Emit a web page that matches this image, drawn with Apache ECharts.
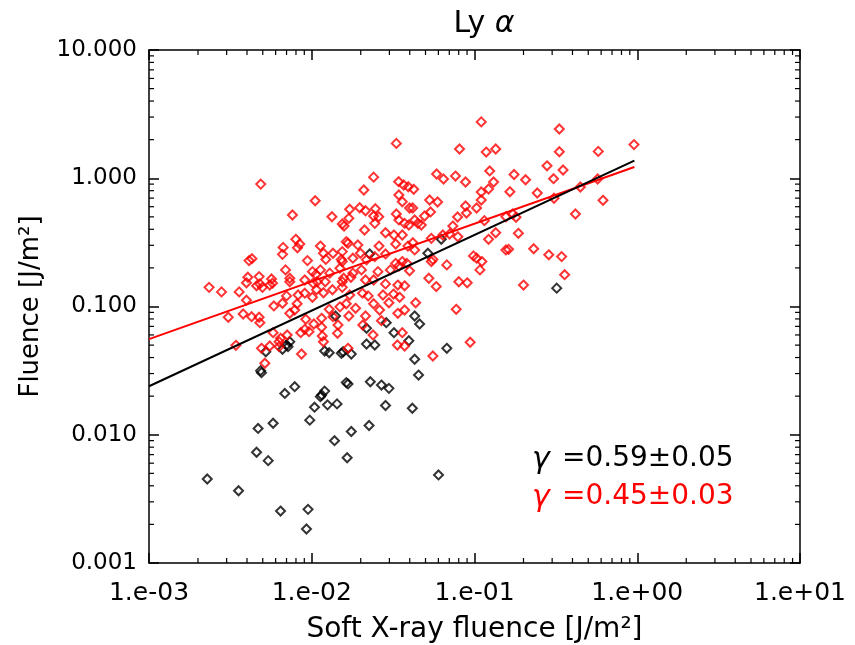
<!DOCTYPE html>
<html><head><meta charset="utf-8">
<script src="https://cdn.jsdelivr.net/npm/echarts@6/dist/echarts.min.js"></script>
<style>html,body{margin:0;padding:0;background:#fff}#c{width:855px;height:645px}</style>
</head><body><div id="c"></div>
<script>
const xTickLabels = ['1.e-03','1.e-02','1.e-01','1.e+00','1.e+01'];
const yTickLabels = ['0.001','0.010','0.100','1.000','10.000'];

const redX = [
0.00486,0.00761,0.00798,0.00844,0.00817,0.00667,0.00661,0.00412,0.00429,0.0069,
0.00941,0.00405,0.00475,0.00566,0.00733,0.00234,0.00279,0.00358,0.00397,0.00458,
0.0048,0.00498,0.00552,0.00574,0.00733,0.00397,0.0070,0.00824,0.00906,0.00585,
0.00661,0.00813,0.00733,0.00786,0.00379,0.00427,0.00475,0.0048,0.00307,0.00579,
0.00643,0.00706,0.0063,0.00919,0.00906,0.00856,0.00962,0.00342,0.00491,0.00552,
0.0063,0.00865,0.00515,
0.0331,0.024,0.0209,0.0105,0.0342,0.0367,0.0392,0.0343,0.036,0.0171,
0.0197,0.0214,0.0246,0.0133,0.0169,0.024,0.0258,0.0331,0.0399,
0.110,0.0809,0.118,0.135,0.124,0.0585,0.0645,0.0764,0.0881,0.131,
0.110,0.110,0.053,0.0593,0.0417,0.0537,0.0881,0.103,0.0893,0.0787,
0.0493,0.0423,0.122,
0.0372,0.0395,0.036,0.0429,0.0449,0.0471,0.0736,0.115,0.156,0.0639,
0.0703,0.079,0.0543,0.0418,0.0429,0.135,0.122,0.156,0.0555,0.0543,
0.036,0.0384,0.0399,0.0676,0.0986,0.103,0.111,0.108,0.0524,0.0582,
0.0801,0.0902,0.0372,0.0435,0.0772,0.036,0.0372,0.0555,0.0941,
0.332,0.332,0.576,0.955,0.279,0.350,0.175,0.206,0.306,0.165,
0.243,0.308,0.447,0.571,0.616,0.417,0.172,0.180,0.186,0.162,
0.231,0.286,0.343,0.358,0.200,
0.0154,0.0158,0.0244,0.0343,0.0211,0.0284,0.032,0.039,0.0113,0.0163,
0.0167,0.0192,0.0154,0.0118,0.0135,0.0199,0.0259,0.0284,0.0328,0.0122,
0.0152,0.0154,0.0179,0.0217,0.0244,0.0328,0.0101,0.0106,0.0113,0.0129,
0.0149,0.0202,0.0179,0.0255,0.0304,0.0343,0.00906,0.0102,0.0108,0.0121,
0.0157,0.0154,0.0174,0.0214,0.024,0.0284,0.0338,0.0107,0.0118,0.0101,
0.0134,0.0154,0.0171,0.0205,0.0222,0.0274,0.0318,0.0347,0.0298,0.024,
0.0186,0.0163,0.0128,0.0135,0.0149,0.0169,0.0214,0.0261,0.0338,0.0372,
0.0115,0.0103,0.0115,0.0116,0.0118,0.0145,0.0144,0.0206,0.0238,0.0268,
0.0336,0.0167
];
const redY = [
0.90,0.517,0.334,0.307,0.287,0.289,0.255,0.228,0.236,0.193,
0.228,0.169,0.171,0.164,0.166,0.141,0.130,0.130,0.153,0.145,
0.150,0.141,0.147,0.152,0.156,0.112,0.121,0.123,0.127,0.101,
0.106,0.105,0.0885,0.0939,0.0874,0.0833,0.0824,0.0748,0.0824,0.0625,
0.0565,0.060,0.0531,0.0795,0.0664,0.0625,0.0636,0.0498,0.0472,0.0492,
0.0486,0.0426,0.0361,
1.87,1.02,0.81,0.668,0.94,0.886,0.859,0.74,0.656,0.573,
0.589,0.558,0.579,0.501,0.487,0.508,0.501,0.526,0.586,
2.75,1.69,1.60,1.69,1.14,1.08,0.987,1.04,0.935,0.935,
0.781,0.677,0.677,0.653,0.586,0.546,0.608,0.586,0.536,0.499,
0.508,0.82,0.825,
0.445,0.432,0.361,0.473,0.445,0.432,0.424,0.467,0.501,0.361,
0.367,0.350,0.340,0.314,0.276,0.376,0.334,0.276,0.233,0.224,
0.224,0.217,0.190,0.211,0.248,0.238,0.224,0.193,0.166,0.143,
0.156,0.153,0.145,0.107,0.0951,0.0625,0.0492,0.0411,0.0526,
2.42,1.61,1.62,1.83,1.25,1.16,1.07,0.974,0.992,0.785,
0.767,0.698,0.855,0.987,0.673,0.526,0.526,0.496,0.372,0.279,
0.282,0.253,0.245,0.177,0.147,
0.440,0.424,0.445,0.473,0.395,0.376,0.361,0.296,0.296,0.320,
0.311,0.302,0.268,0.260,0.260,0.260,0.296,0.257,0.307,0.233,
0.233,0.224,0.238,0.231,0.245,0.217,0.187,0.178,0.193,0.182,
0.199,0.193,0.182,0.187,0.193,0.207,0.161,0.152,0.156,0.156,
0.166,0.156,0.169,0.161,0.161,0.150,0.147,0.135,0.128,0.118,
0.135,0.141,0.123,0.127,0.121,0.123,0.125,0.118,0.107,0.105,
0.0968,0.105,0.0951,0.0833,0.0994,0.0843,0.0843,0.0939,0.0885,0.0939,
0.0809,0.073,0.0688,0.0589,0.0531,0.0717,0.0618,0.0717,0.060,0.0775,
0.0501,0.0472
];

const blackX = [
0.00522,0.00661,0.0070,0.00733,0.00715,0.00485,0.00491,0.00683,0.00786,0.00468,
0.00579,0.00972,0.00458,0.0054,0.00228,0.00355,0.00643,0.00949,0.00928,0.0217,
0.0287,0.032,0.0217,0.0244,0.012,0.0128,0.0152,0.0156,0.0175,0.0167,
0.0163,0.0229,0.0268,0.0298,0.012,0.0113,0.0115,0.0143,0.0125,0.0104,
0.0284,0.0225,0.0175,0.0138,0.0165,0.0415,0.0227,0.014,0.0625,0.0517,
0.0429,0.046,0.0395,0.0676,0.0429,0.0453,0.0601,0.320
];
const blackY = [
0.0444,0.0464,0.0501,0.0531,0.0486,0.0316,0.0305,0.021,0.0237,0.0112,
0.0123,0.013,0.0073,0.00628,0.00452,0.00366,0.00254,0.00262,0.00184,0.0676,
0.0748,0.0625,0.051,0.0501,0.045,0.0436,0.0432,0.0444,0.0426,0.0249,
0.0255,0.0259,0.0244,0.023,0.0219,0.0198,0.0204,0.0174,0.0171,0.0164,
0.0169,0.0118,0.0106,0.00899,0.00662,0.0161,0.257,0.0843,0.334,0.260,
0.0843,0.073,0.0541,0.0472,0.0388,0.0292,0.00486,0.139
];

const blackFitX = [0.001, 0.96];
const blackFitY = [0.0239, 1.37];
const redFitX = [0.001, 0.96];
const redFitY = [0.0557, 1.224];

const FONT = 'DejaVu Sans';
const minorVals = [];
for (let e = -3; e < 1; e++) for (let m = 2; m <= 9; m++) minorVals.push(m * Math.pow(10, e));

function zip(a, b) { return a.map((v, i) => [v, b[i]]); }
function xLabel(v) { const e = Math.round(Math.log10(v)); return xTickLabels[e + 3]; }
function yLabel(v) { const e = Math.round(Math.log10(v)); return yTickLabels[e + 3]; }

const chart = echarts.init(document.getElementById('c'), null, {renderer: 'canvas'});
const axCommon = {
  type: 'log', logBase: 10, min: 0.001, max: 10,
  splitLine: {show: false},
  axisLine: {show: true, lineStyle: {color: '#000', width: 1.5}},
  axisTick: {show: true, inside: true, length: 10, lineStyle: {color: '#000', width: 1.5}},
};
function minorSeries(isX) {
  return {
    type: 'custom', silent: true, clip: false, z: 4,
    xAxisIndex: 0, yAxisIndex: 0,
    data: minorVals.map(v => isX ? [v, 0.001] : [0.001, v]),
    renderItem: function (params, api) {
      const v = api.value(isX ? 0 : 1);
      const L = 5;
      if (isX) {
        const b = api.coord([v, 0.001]), t = api.coord([v, 10]);
        return {type: 'group', children: [
          {type: 'line', shape: {x1: b[0], y1: b[1], x2: b[0], y2: b[1] - L}, style: {stroke: '#000', lineWidth: 1.2}},
          {type: 'line', shape: {x1: t[0], y1: t[1], x2: t[0], y2: t[1] + L}, style: {stroke: '#000', lineWidth: 1.2}}
        ]};
      } else {
        const l = api.coord([0.001, v]), r = api.coord([10, v]);
        return {type: 'group', children: [
          {type: 'line', shape: {x1: l[0], y1: l[1], x2: l[0] + L, y2: l[1]}, style: {stroke: '#000', lineWidth: 1.2}},
          {type: 'line', shape: {x1: r[0], y1: r[1], x2: r[0] - L, y2: r[1]}, style: {stroke: '#000', lineWidth: 1.2}}
        ]};
      }
    }
  };
}
const option = {
  animation: false,
  backgroundColor: '#fff',
  textStyle: {fontFamily: FONT},
  title: {
    text: 'Ly {a|α}', left: 479, top: 4, textAlign: 'center',
    textStyle: {fontFamily: FONT, fontSize: 30, fontWeight: 'normal', color: '#000',
      rich: {a: {fontFamily: FONT, fontSize: 30, fontStyle: 'italic', color: '#000'}}}
  },
  grid: {left: 149, right: 55, top: 50, bottom: 82, containLabel: false, outerBoundsMode: 'none'},
  xAxis: [
    Object.assign({}, axCommon, {position: 'bottom',
      name: 'Soft X-ray fluence [J/m²]', nameLocation: 'middle', nameGap: 53,
      nameTextStyle: {fontFamily: FONT, fontSize: 28, color: '#000'},
      axisLabel: {show: true, margin: 18, fontFamily: FONT, fontSize: 25, color: '#000', formatter: xLabel}}),
    Object.assign({}, axCommon, {position: 'top', axisLabel: {show: false}})
  ],
  yAxis: [
    Object.assign({}, axCommon, {position: 'left',
      name: 'Fluence [J/m²]', nameLocation: 'middle', nameGap: 105,
      nameTextStyle: {fontFamily: FONT, fontSize: 26, color: '#000'},
      axisLabel: {show: true, margin: 12, fontFamily: FONT, fontSize: 23, color: '#000', formatter: yLabel}}),
    Object.assign({}, axCommon, {position: 'right', axisLabel: {show: false}})
  ],
  graphic: [
    {type: 'text', left: 532, top: 445, style: {text: 'γ', font: 'italic 30px "DejaVu Sans"', fill: '#000'}},
    {type: 'text', left: 562, top: 445, style: {text: '=0.59±0.05', font: '28px "DejaVu Sans"', fill: '#000'}},
    {type: 'text', left: 532, top: 483, style: {text: 'γ', font: 'italic 30px "DejaVu Sans"', fill: '#f00'}},
    {type: 'text', left: 562, top: 483, style: {text: '=0.45±0.03', font: '28px "DejaVu Sans"', fill: '#f00'}}
  ],
  series: [
    minorSeries(true), minorSeries(false),
    {type: 'scatter', name: 'all', data: zip(blackX, blackY), symbol: 'diamond', symbolSize: 9,
      itemStyle: {color: 'rgba(0,0,0,0)', borderColor: '#000', borderWidth: 2}, z: 2},
    {type: 'scatter', name: 'sel', data: zip(redX, redY), symbol: 'diamond', symbolSize: 9,
      itemStyle: {color: 'rgba(0,0,0,0)', borderColor: '#f00', borderWidth: 2}, z: 3},
    {type: 'line', data: zip(redFitX, redFitY), showSymbol: false, lineStyle: {color: '#f00', width: 2}, z: 6},
    {type: 'line', data: zip(blackFitX, blackFitY), showSymbol: false, lineStyle: {color: '#000', width: 2}, z: 7}
  ]
};
chart.setOption(option);
</script></body></html>
